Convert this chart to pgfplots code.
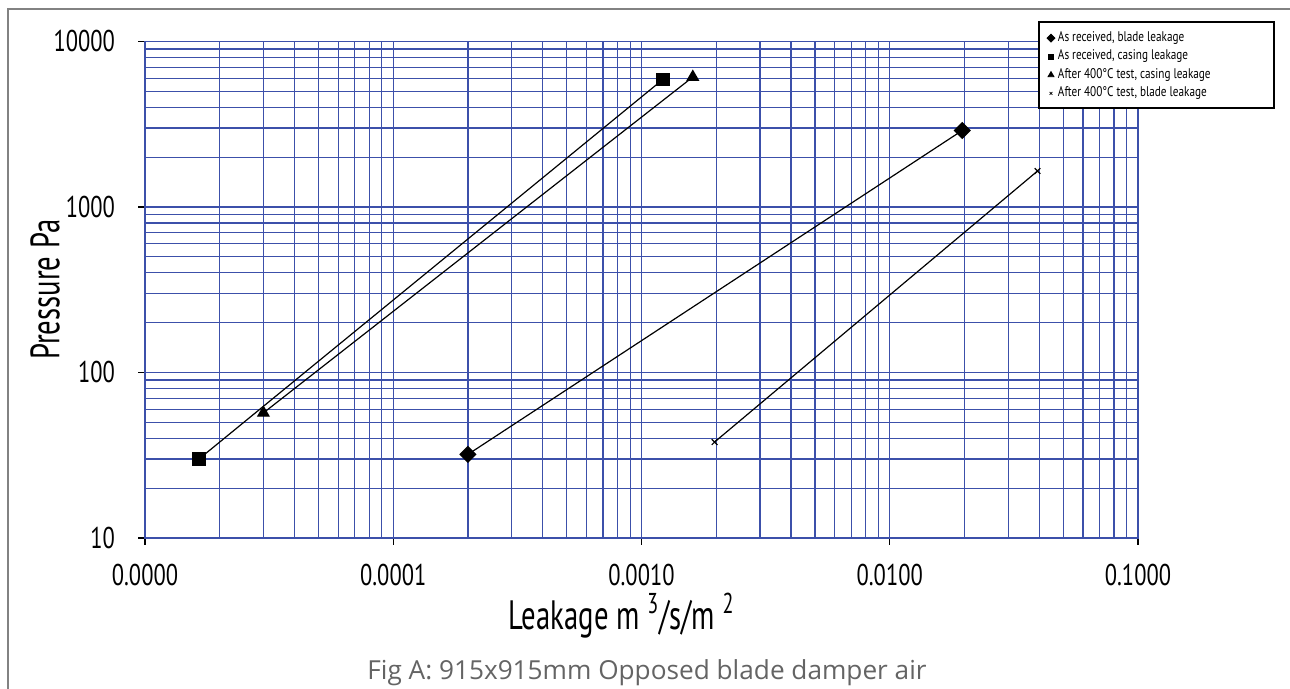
\documentclass[border=0pt]{standalone}
\usepackage{fontspec}
\setmainfont{PT Sans}
\newfontfamily\condfam[FakeStretch=0.75]{PT Sans}
\newfontfamily\labfam[FakeStretch=0.7]{PT Sans}
\newfontfamily\legfam[FakeStretch=0.8]{PT Sans}
\newfontfamily\capfam{Open Sans}
\newcommand\tickf{\condfam\fontsize{15}{18}\selectfont}
\newcommand\labf{\labfam\fontsize{20.5}{24}\selectfont}
\newcommand\legf{\legfam\fontsize{7}{8}\selectfont}
\newcommand\capf{\capfam\fontsize{13.1}{15}\selectfont}
\usepackage{pgfplots}
\pgfplotsset{compat=1.18}
\definecolor{gridblue}{RGB}{60,80,170}
\definecolor{framegray}{RGB}{130,130,130}
\definecolor{capgray}{RGB}{100,100,100}
\begin{document}
\begin{tikzpicture}
\useasboundingbox (-72.5pt,-75.5pt) rectangle (572.5pt,269pt);
\begin{axis}[
 at={(0,0)}, anchor=south west,
 scale only axis, width=496.5pt, height=248.25pt,
 xmode=log, ymode=log,
 xmin=1e-5, xmax=0.1, ymin=10, ymax=10000,
 clip=false,
 xtick={1e-5,1e-4,1e-3,1e-2,1e-1},
 xticklabels={0.0000,0.0001,0.0010,0.0100,0.1000},
 ytick={10,100,1000,10000},
 yticklabels={10,100,1000,10000},
 minor xtick={2e-5,3e-5,4e-5,5e-5,6e-5,7e-5,8e-5,9e-5,2e-4,3e-4,4e-4,5e-4,6e-4,7e-4,8e-4,9e-4,0.002,0.003,0.004,0.005,0.006,0.007,0.008,0.009,0.02,0.03,0.04,0.05,0.06,0.07,0.08,0.09},
 minor ytick={20,30,40,50,60,70,80,90,200,300,400,500,600,700,800,900,2000,3000,4000,5000,6000,7000,8000,9000},
 grid=both,
 major grid style={gridblue, line width=0.6pt},
 minor grid style={gridblue, line width=0.6pt},
 axis line style={gridblue, line width=0.6pt},
 tick align=outside, tick pos=left,
 major tick length=3.5pt, minor tick length=0pt,
 tick style={black, line width=0.6pt},
 ticklabel style={font=\tickf},
 yticklabel style={xshift=-8pt},
 xticklabel style={yshift=-6pt},
 xlabel={Leakage m \textsuperscript{3}/s/m \textsuperscript{2}},
 ylabel={Pressure Pa},
 xlabel style={font=\labf, at={(axis description cs:0.48,-0.1833)}, anchor=base},
 ylabel style={font=\labf, at={(axis description cs:-0.1007,0.5)}, anchor=center},
 legend style={at={(0.9060,1.028)}, anchor=north west, draw=none, fill=none, font=\legf,
   row sep=1.0pt, inner sep=1pt, nodes={inner sep=1pt, text height=4.8pt, text depth=1.4pt},
   /tikz/every even column/.append style={column sep=0pt},
   /tikz/every odd column/.append style={column sep=0.5pt}},
 legend cell align=left,
 legend image code/.code={\draw[#1] plot coordinates {(0pt,0pt)};},
]
\draw[black, line width=0.6pt, fill=white] (rel axis cs:0.9003,1.0393) rectangle (rel axis cs:1.1370,0.8661);

\addplot[black, line width=0.6pt, mark=square*, mark size=2.75pt, mark options={rotate=45, solid}, forget plot]
 coordinates {(0.0002,32) (0.0196,2900)};
\addplot[black, line width=0.6pt, mark=square*, mark size=3.1pt, forget plot]
 coordinates {(1.65e-5,30) (0.00122,5900)};
\addplot[black, line width=0.6pt, mark=triangle*, mark size=3.2pt, forget plot]
 coordinates {(3.0e-5,57) (0.00161,6100)};
\addplot[black, line width=0.6pt, mark=x, mark size=2pt, forget plot]
 coordinates {(0.00197,38) (0.0394,1650)};

\addlegendimage{black, mark=square*, mark size=1.4pt, mark options={rotate=45}}
\addlegendentry{As received, blade leakage}
\addlegendimage{black, mark=square*, mark size=1.25pt}
\addlegendentry{As received, casing leakage}
\addlegendimage{black, mark=triangle*, mark size=1.7pt}
\addlegendentry{After 400°C test, casing leakage}
\addlegendimage{black, mark=x, mark size=1pt, line width=0.4pt}
\addlegendentry{After 400°C test, blade leakage}
\end{axis}
\draw[framegray, line width=0.75pt] (-68.5pt,-75.5pt) -- (-68.5pt,264.5pt) -- (572.5pt,264.5pt);
\node[font=\capf, text=capgray, anchor=base, inner sep=0pt] at (251pt,-71pt) {Fig A: 915x915mm Opposed blade damper air};
\end{tikzpicture}
\end{document}
